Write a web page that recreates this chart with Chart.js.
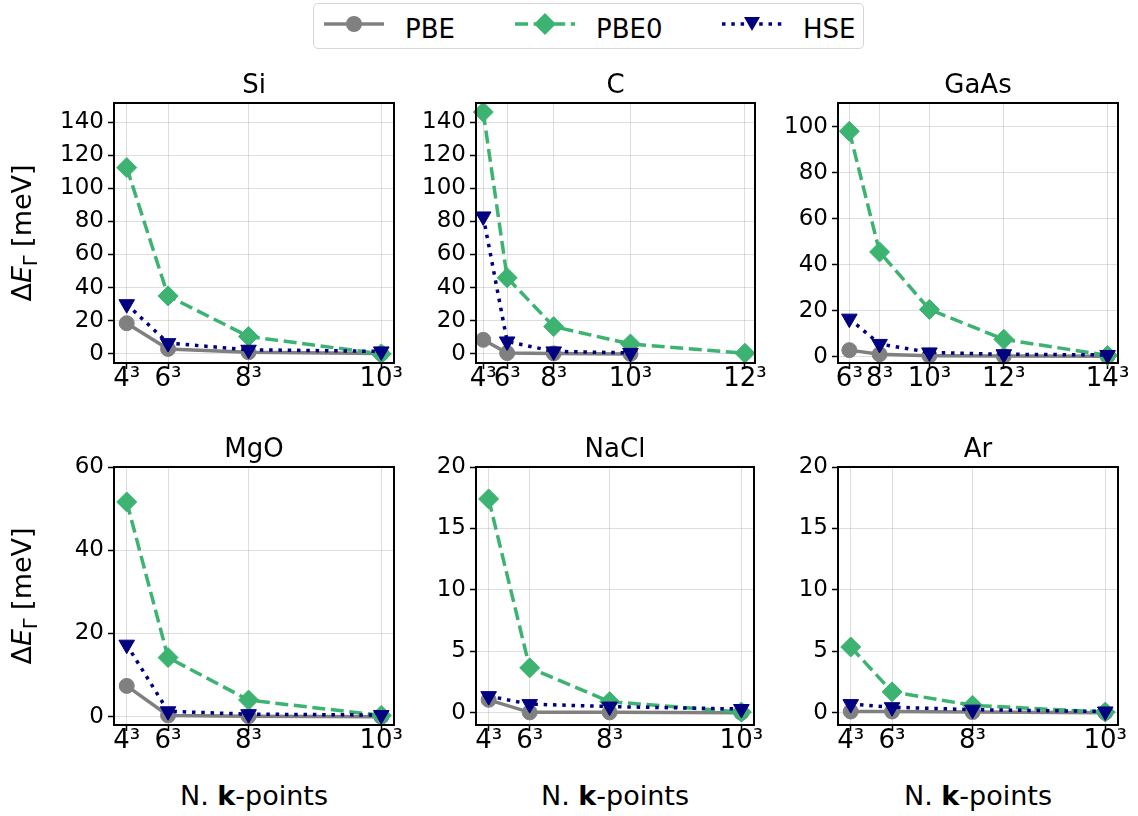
<!DOCTYPE html>
<html>
<head>
<meta charset="utf-8">
<script src="https://cdn.jsdelivr.net/npm/chart.js@4.4.1/dist/chart.umd.min.js"></script>
<style>
  body { margin: 0; width: 1138px; height: 816px; background: #fff; position: relative; overflow: hidden; font-family: 'DejaVu Sans', sans-serif; color: #000; }
  canvas.panel { position: absolute; }
  .ylab { position: absolute; font-size: 27px; line-height: 32px; white-space: nowrap; transform: translate(-50%, -50%) rotate(-90deg); }
  .ylab .sub { font-size: 0.7em; position: relative; top: 0.3em; }
  .xlab { position: absolute; font-size: 27px; line-height: 32px; white-space: nowrap; transform: translateX(-50%); }
  #legend { position: absolute; left: 313px; top: 3px; width: 551px; height: 46px; box-sizing: border-box; border: 1px solid #d6d6d6; border-radius: 5px; background: #fff; }
  .leg-sample { position: absolute; top: 8px; }
  .leg-text { position: absolute; top: 10px; font-size: 26px; line-height: 30px; white-space: nowrap; }
</style>
</head>
<body>

<div id="legend"></div>

<script>
// k-point meshes on the x axis (N^3) and their tick labels
const kValues = [64, 216, 512, 1000, 1728, 2744];
const kLabels = ['4³', '6³', '8³', '10³', '12³', '14³'];

// ΔE_Γ in meV for each system and functional
const siK = [64, 216, 512, 1000];
const siPBE = [18.5, 3, 1, 0.2];
const siPBE0 = [112.5, 35, 10.5, 0];
const siHSE = [30, 6.5, 2.5, 1.5];

const cK = [64, 216, 512, 1000];
const cK0 = [64, 216, 512, 1000, 1728];
const cPBE = [8.5, 0.5, 0.3, 0];
const cPBE0 = [146, 46, 16.5, 6, 0.4];
const cHSE = [83, 7.5, 1.5, 0.6];

const gaasK = [216, 512, 1000, 1728, 2744];
const gaasPBE = [2.8, 1, 0.4, 0.2, 0.1];
const gaasPBE0 = [98, 45.5, 20.5, 7.5, 0.5];
const gaasHSE = [16.5, 5.5, 1.8, 1, 0.7];

const mgoK = [64, 216, 512, 1000];
const mgoPBE = [7.4, 0.3, 0.1, 0];
const mgoPBE0 = [51.6, 14.2, 4.0, 0.3];
const mgoHSE = [17.3, 1.3, 0.6, 0.4];

const naclK = [64, 216, 512, 1000];
const naclPBE = [1.05, 0.03, 0.03, 0];
const naclPBE0 = [17.4, 3.65, 0.9, 0.05];
const naclHSE = [1.35, 0.7, 0.5, 0.3];

const arK = [64, 216, 512, 1000];
const arPBE = [0.1, 0.1, 0.05, 0];
const arPBE0 = [5.35, 1.7, 0.6, 0.05];
const arHSE = [0.7, 0.45, 0.25, 0.1];

// y tick sets
const yTicks150 = [0, 20, 40, 60, 80, 100, 120, 140];
const yTicks100 = [0, 20, 40, 60, 80, 100];
const yTicks60 = [0, 20, 40, 60];
const yTicks20 = [0, 5, 10, 15, 20];

const GRAY = '#808080';
const GREEN = '#3cb371';
const NAVY = '#000080';

const panels = [
  { title: 'Si',   kA: siK,   kB: siK,   pbe: siPBE,   pbe0: siPBE0,   hse: siHSE,   xt: siK,   yt: yTicks150, xr: [17.2, 1046.8], yr: [-5.5, 151.5], box: [114, 103, 394, 363] },
  { title: 'C',    kA: cK,    kB: cK0,   pbe: cPBE,    pbe0: cPBE0,    hse: cHSE,    xt: cK0,   yt: yTicks150, xr: [18, 1792],     yr: [-5.5, 151.5], box: [476, 103, 755, 363] },
  { title: 'GaAs', kA: gaasK, kB: gaasK, pbe: gaasPBE, pbe0: gaasPBE0, hse: gaasHSE, xt: gaasK, yt: yTicks100, xr: [105, 2846],    yr: [-2.8, 110.3], box: [838, 103, 1118, 363] },
  { title: 'MgO',  kA: mgoK,  kB: mgoK,  pbe: mgoPBE,  pbe0: mgoPBE0,  hse: mgoHSE,  xt: mgoK,  yt: yTicks60,  xr: [17.2, 1046.8], yr: [-2, 60],      box: [114, 467, 394, 725] },
  { title: 'NaCl', kA: naclK, kB: naclK, pbe: naclPBE, pbe0: naclPBE0, hse: naclHSE, xt: naclK, yt: yTicks20,  xr: [17.2, 1046.8], yr: [-1, 20],      box: [476, 467, 754, 725] },
  { title: 'Ar',   kA: arK,   kB: arK,   pbe: arPBE,   pbe0: arPBE0,   hse: arHSE,   xt: arK,   yt: yTicks20,  xr: [17.2, 1046.8], yr: [-1, 20],      box: [838, 467, 1118, 725] }
];

Chart.defaults.font.family = "'DejaVu Sans', sans-serif";
Chart.defaults.color = '#000';

// equal side margins (left axis + empty right axis) so the title is centred over the plot
const SIDE_W = 110, X_AXIS_H = 50, TITLE_H = 40;

// black frame round the plot area (all four spines)
const framePlugin = {
  id: 'frame',
  afterDatasetsDraw(chart) {
    const { ctx, chartArea: a } = chart;
    ctx.save();
    ctx.strokeStyle = '#000';
    ctx.lineWidth = 2;
    ctx.strokeRect(a.left, a.top, a.right - a.left, a.bottom - a.top);
    ctx.restore();
  }
};

function pts(xs, ys) {
  return xs.map((x, i) => ({ x: x, y: ys[i] }));
}

function makeDatasets(p) {
  return [
    { label: 'PBE', data: pts(p.kA, p.pbe), borderColor: GRAY, backgroundColor: GRAY,
      borderWidth: 3.5, pointStyle: 'circle', pointRadius: 7.5, pointBorderWidth: 1, order: 3, clip: false },
    { label: 'PBE0', data: pts(p.kB, p.pbe0), borderColor: GREEN, backgroundColor: GREEN,
      borderWidth: 3.5, borderDash: [13, 5.6], pointStyle: 'rectRot', pointRadius: 10, pointBorderWidth: 1, order: 2, clip: false },
    { label: 'HSE', data: pts(p.kA, p.hse), borderColor: NAVY, backgroundColor: NAVY,
      borderWidth: 3.5, borderDash: [3.5, 5.8], pointStyle: 'triangle', pointRotation: 180, pointRadius: 9, pointBorderWidth: 1, order: 1, clip: false }
  ];
}

const gridStyle = { color: 'rgba(160,160,160,0.35)', lineWidth: 1, tickColor: '#000', tickLength: 6, tickWidth: 1.5 };

panels.forEach((p) => {
  const [l, t, r, b] = p.box;
  const canvas = document.createElement('canvas');
  canvas.className = 'panel';
  canvas.width = (r - l) + 2 * SIDE_W;
  canvas.height = (b - t) + TITLE_H + X_AXIS_H;
  canvas.style.left = (l - SIDE_W) + 'px';
  canvas.style.top = (t - TITLE_H) + 'px';
  document.body.appendChild(canvas);

  new Chart(canvas.getContext('2d'), {
    type: 'line',
    data: { datasets: makeDatasets(p) },
    options: {
      responsive: false,
      animation: false,
      events: [],
      layout: { padding: 0, autoPadding: false },
      plugins: {
        legend: { display: false },
        tooltip: { enabled: false },
        title: {
          display: true, text: p.title, color: '#000',
          font: { size: 26, weight: 'normal', lineHeight: '30px' },
          padding: { top: 8, bottom: 2 }
        }
      },
      scales: {
        x: {
          type: 'linear', min: p.xr[0], max: p.xr[1],
          afterBuildTicks: (ax) => { ax.ticks = p.xt.map(v => ({ value: v })); },
          afterFit: (ax) => { ax.height = X_AXIS_H; },
          grid: gridStyle,
          border: { display: false },
          ticks: {
            autoSkip: false, maxRotation: 0, padding: 2, color: '#000',
            font: { size: 26, lineHeight: '16px' },
            callback: (v) => kLabels[kValues.indexOf(v)]
          }
        },
        y: {
          type: 'linear', min: p.yr[0], max: p.yr[1],
          afterBuildTicks: (ax) => { ax.ticks = p.yt.map(v => ({ value: v })); },
          afterFit: (ax) => { ax.width = SIDE_W; },
          grid: gridStyle,
          border: { display: false },
          ticks: { autoSkip: false, padding: 4, color: '#000', font: { size: 23 } }
        },
        // empty axis on the right, only there to reserve space
        yRight: {
          type: 'linear', position: 'right', min: 0, max: 1,
          afterFit: (ax) => { ax.width = SIDE_W; },
          grid: { display: false },
          border: { display: false },
          ticks: { display: false }
        }
      }
    },
    plugins: [framePlugin]
  });
});

// axis titles: y label per row, x label under each bottom panel
[233, 596].forEach((cy) => {
  const d = document.createElement('div');
  d.className = 'ylab';
  d.style.left = '23px';
  d.style.top = cy + 'px';
  d.innerHTML = 'Δ<i>E</i><span class="sub">Γ</span> [meV]';
  document.body.appendChild(d);
});
panels.slice(3).forEach((p) => {
  const d = document.createElement('div');
  d.className = 'xlab';
  d.style.left = ((p.box[0] + p.box[2]) / 2) + 'px';
  d.style.top = '780px';
  d.innerHTML = 'N. <b>k</b>-points';
  document.body.appendChild(d);
});

// shared legend
const legendItems = [
  { text: 'PBE',  x: 10,  tx: 91,  color: GRAY,  dash: '',         marker: '<circle cx="30" cy="12" r="8" fill="' + GRAY + '"/>' },
  { text: 'PBE0', x: 201, tx: 282, color: GREEN, dash: '13 5.6',   marker: '<polygon points="30,1 41,12 30,23 19,12" fill="' + GREEN + '"/>' },
  { text: 'HSE',  x: 408, tx: 489, color: NAVY,  dash: '3.5 5.8',  marker: '<polygon points="22,5 38,5 30,19" fill="' + NAVY + '"/>' }
];
const legend = document.getElementById('legend');
legendItems.forEach((it) => {
  const s = document.createElement('div');
  s.className = 'leg-sample';
  s.style.left = it.x + 'px';
  s.innerHTML = '<svg width="60" height="24"><line x1="0" y1="12" x2="60" y2="12" stroke="' + it.color +
    '" stroke-width="3.5"' + (it.dash ? ' stroke-dasharray="' + it.dash + '"' : '') + '/>' + it.marker + '</svg>';
  legend.appendChild(s);
  const t = document.createElement('div');
  t.className = 'leg-text';
  t.style.left = it.tx + 'px';
  t.textContent = it.text;
  legend.appendChild(t);
});
</script>
</body>
</html>
